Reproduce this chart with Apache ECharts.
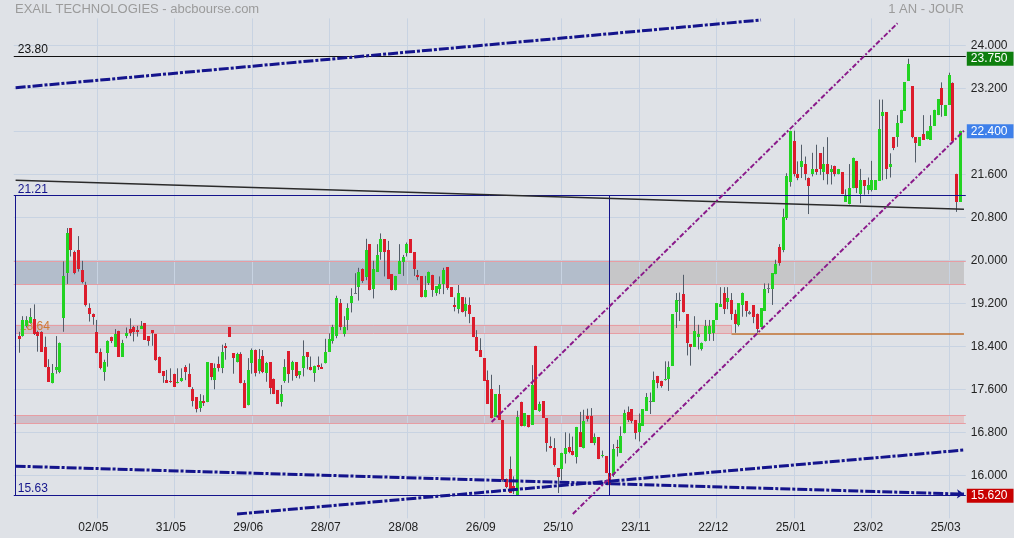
<!DOCTYPE html>
<html><head><meta charset="utf-8">
<script src="https://cdn.jsdelivr.net/npm/echarts@6/dist/echarts.min.js"></script>
<style>html,body{margin:0;padding:0;background:#dfe2e7;}#c{width:1014px;height:538px;}</style>
</head><body><div id="c"></div>
<script>
// ---------- DATA ----------
const open = [
18.59,18.60,18.77,18.83,18.91,18.67,18.66,18.39,18.01,17.71,
17.95,17.93,18.93,19.76,20.60,20.15,20.20,19.82,19.54,19.11,
19.01,18.67,18.30,17.93,18.28,18.58,18.39,18.69,18.21,18.60,
18.72,18.75,18.70,18.73,18.83,18.59,18.70,18.63,18.21,17.94,
17.77,17.76,17.89,17.71,17.76,18.01,17.89,17.61,17.45,17.26,
17.38,17.36,18.08,17.77,18.07,17.99,18.41,18.75,18.27,18.10,
18.26,17.71,17.30,18.08,18.34,17.94,18.22,17.90,18.10,17.80,
17.58,17.36,17.76,18.31,17.95,18.10,17.86,17.99,18.29,18.02,
17.90,18.05,18.02,18.08,18.30,18.50,18.60,19.20,18.62,18.89,
19.20,19.40,19.50,19.83,19.68,20.30,19.46,19.79,20.15,20.39,
20.20,19.74,19.44,19.75,19.96,20.14,20.39,20.15,19.73,19.70,
19.31,19.58,19.73,19.40,19.46,19.56,19.87,19.50,19.17,19.09,
19.31,19.05,19.17,18.94,18.57,18.34,18.18,17.77,17.60,17.09,
17.51,17.03,15.94,16.11,15.80,15.64,17.37,16.91,17.12,16.94,
18.41,17.20,17.38,17.06,16.55,16.50,16.13,16.11,16.40,16.52,
16.45,16.34,16.80,16.50,17.10,17.10,16.61,16.71,16.35,16.36,
16.05,16.01,16.53,16.42,16.78,17.17,17.23,17.03,16.81,16.92,
17.20,17.39,17.37,17.85,17.76,17.77,17.80,18.04,19.04,19.25,
19.37,19.00,18.44,18.39,18.58,18.35,18.49,18.63,18.65,18.89,
19.14,19.40,19.23,19.27,19.00,18.80,19.17,19.24,19.03,19.16,
19.01,18.75,19.06,19.48,19.46,19.74,20.25,20.20,20.78,21.45,
22.21,21.60,21.74,21.79,21.54,21.60,21.70,21.99,21.64,21.79,
21.64,21.76,21.60,21.64,21.09,21.04,21.34,21.85,21.23,21.49,
21.31,21.31,21.31,21.48,22.69,22.75,21.74,22.29,22.29,22.55,
22.78,23.34,23.24,22.29,22.13,22.35,22.25,22.24,22.50,22.70,
23.20,22.69,22.89,23.30,21.61,21.09];
const close = [
18.54,18.89,18.89,18.94,18.63,18.60,18.30,18.01,17.74,17.90,
18.01,18.46,19.71,20.50,20.20,19.76,19.84,19.59,19.16,19.01,
18.94,18.27,17.99,18.11,18.49,18.49,18.63,18.21,18.47,18.64,
18.65,18.66,18.67,18.78,18.52,18.50,18.64,18.15,17.90,17.85,
17.72,17.73,17.65,17.74,17.81,17.93,17.64,17.39,17.23,17.38,
17.35,18.10,17.82,17.99,18.00,18.29,18.36,18.58,18.19,18.25,
17.71,17.26,17.96,18.33,17.90,18.16,17.92,18.08,17.63,17.51,
17.33,17.51,18.01,17.89,18.10,17.85,17.94,18.22,18.20,17.95,
18.04,18.02,17.98,18.30,18.53,18.75,19.29,18.75,18.75,19.11,
19.34,19.39,19.78,19.62,20.20,19.44,19.83,20.10,20.39,20.15,
19.65,19.44,19.71,19.99,20.06,20.30,20.14,19.84,19.68,19.31,
19.45,19.78,19.44,19.52,19.55,19.82,19.49,19.32,19.14,19.39,
19.03,19.19,19.00,18.57,18.32,18.20,17.76,17.33,17.06,17.51,
17.03,15.91,15.79,15.67,15.70,17.08,16.91,17.15,16.89,17.68,
17.22,17.32,17.07,16.60,16.50,16.19,15.96,16.41,16.50,16.44,
16.37,16.90,16.53,17.01,17.05,16.61,16.71,16.30,16.38,16.05,
15.82,16.48,16.50,16.73,17.15,17.03,17.01,16.78,16.97,17.23,
17.46,17.37,17.77,17.71,17.67,17.80,18.01,19.00,19.26,19.27,
19.03,18.46,18.39,18.69,18.63,18.47,18.78,18.78,18.88,19.20,
19.19,19.09,19.29,19.00,18.81,19.20,19.40,19.05,19.01,18.94,
18.72,19.11,19.46,19.46,19.76,19.94,19.95,20.81,21.56,22.41,
21.61,21.54,21.85,21.60,21.38,21.70,21.64,21.69,21.79,21.60,
21.70,21.60,21.70,21.23,21.20,21.35,21.91,21.34,21.49,21.39,
21.40,21.49,21.49,22.44,22.75,21.69,21.79,22.08,22.55,22.80,
23.31,23.65,22.29,22.19,22.29,22.24,22.41,22.50,22.80,23.00,
22.89,22.89,23.45,22.21,21.09,22.40];
const low = [
18.28,18.58,18.75,18.82,18.61,18.30,18.30,18.01,17.74,17.71,
17.89,17.90,18.67,19.56,20.07,19.74,19.79,19.57,19.14,18.86,
18.80,18.27,17.97,17.76,18.02,18.46,18.39,18.21,18.21,18.55,
18.59,18.49,18.58,18.73,18.52,18.41,18.41,18.13,17.90,17.72,
17.72,17.72,17.65,17.71,17.74,17.77,17.64,17.28,17.17,17.18,
17.29,17.36,17.77,17.60,17.93,17.90,18.15,18.58,17.89,18.10,
17.71,17.26,17.30,17.89,17.84,17.89,17.90,17.74,17.51,17.51,
17.33,17.28,17.72,17.72,17.76,17.81,17.80,17.84,17.97,17.95,
17.74,17.96,17.98,18.08,18.30,18.45,18.55,18.70,18.58,18.70,
19.03,19.38,19.25,19.58,19.63,19.44,19.29,19.79,20.01,19.70,
19.65,19.44,19.44,19.75,19.71,20.07,20.14,19.71,19.63,19.31,
19.31,19.54,19.32,19.34,19.37,19.37,19.45,19.32,19.05,19.01,
19.03,18.95,18.83,18.57,18.32,18.20,17.76,17.33,17.06,17.09,
17.03,15.88,15.76,15.67,15.65,15.63,16.91,16.91,16.89,16.94,
17.22,17.18,17.07,16.44,16.50,16.16,15.67,15.91,16.22,16.41,
16.37,16.22,16.53,16.50,17.00,16.61,16.56,16.30,16.33,16.04,
15.72,15.97,16.35,16.42,16.78,16.99,16.97,16.67,16.63,16.92,
17.20,17.14,17.37,17.62,17.63,17.76,17.57,18.04,18.74,18.87,
19.03,18.23,18.04,18.39,18.34,18.32,18.49,18.50,18.50,18.89,
19.14,19.00,19.09,18.89,18.65,18.77,18.95,18.95,18.99,18.83,
18.65,18.75,19.06,19.39,19.17,19.74,19.90,20.15,20.75,21.37,
21.56,21.49,21.53,21.49,20.86,21.56,21.59,21.59,21.49,21.41,
21.41,21.56,21.60,21.23,21.09,21.04,21.34,21.25,21.06,21.22,
21.23,21.28,21.31,21.48,21.49,21.51,21.54,22.05,22.11,22.55,
22.78,23.34,22.27,21.82,22.13,22.24,22.25,22.24,22.50,22.70,
22.67,22.69,22.89,22.21,20.90,21.09];
const high = [
18.67,18.96,18.96,19.11,19.18,18.69,18.68,18.58,18.16,18.07,
18.59,18.47,19.98,20.60,20.60,20.18,20.45,19.99,19.60,19.20,
19.01,18.89,18.36,18.15,18.51,18.58,18.72,18.69,18.52,18.75,
18.92,18.78,18.78,18.87,18.83,18.59,18.70,18.63,18.21,17.94,
17.96,17.99,17.89,17.99,17.99,18.05,18.08,17.64,17.45,17.51,
17.49,18.10,18.08,18.08,18.21,18.43,18.46,18.75,18.27,18.28,
18.29,17.77,18.18,18.36,18.34,18.35,18.33,18.11,18.10,17.80,
17.58,17.68,18.16,18.31,18.13,18.10,17.94,18.51,18.29,18.21,
18.04,18.21,18.08,18.54,18.64,18.80,19.34,19.28,18.96,19.20,
19.48,19.76,19.86,19.85,20.40,20.30,19.99,20.30,20.50,20.39,
20.36,19.74,19.71,20.30,20.10,20.33,20.39,20.15,19.82,19.70,
19.71,19.79,19.73,19.52,19.70,19.86,19.87,19.50,19.31,19.54,
19.31,19.31,19.31,18.94,18.70,18.55,18.18,17.95,17.87,17.51,
17.68,17.03,15.94,16.35,15.98,17.20,17.37,17.15,17.12,18.05,
18.41,17.37,17.38,17.06,16.72,16.69,16.13,16.42,16.80,16.78,
16.72,16.90,17.18,17.22,17.24,17.25,16.78,16.71,16.46,16.36,
16.10,16.58,16.66,16.91,17.22,17.28,17.23,17.03,17.15,17.23,
17.53,17.54,17.93,17.85,17.76,18.12,18.12,19.00,19.39,19.40,
19.73,19.00,18.44,18.96,18.80,18.47,18.89,18.89,18.88,19.20,
19.50,19.50,19.50,19.39,19.08,19.20,19.40,19.24,19.06,19.16,
19.01,19.11,19.57,19.57,19.76,20.01,20.30,20.96,21.62,22.41,
22.41,21.84,22.15,21.93,21.54,22.00,22.15,21.99,22.11,22.29,
21.77,21.76,21.70,21.64,21.32,21.79,21.91,21.85,21.70,21.49,
21.54,21.85,21.49,22.99,22.99,22.75,21.99,22.29,22.70,22.80,
23.31,23.75,23.24,22.29,22.29,22.70,22.41,22.70,22.80,23.00,
23.31,22.89,23.49,23.31,21.61,22.41];

const tickLabels = ['02/05','31/05','29/06','28/07','28/08','26/09','25/10','23/11','22/12','25/01','23/02','25/03'];
const holidays = ['2023-04-07','2023-04-10','2023-05-01','2023-12-25','2023-12-26','2024-01-01'];
const firstDay = '2023-03-29';

// horizontal levels / zones (values)
const zoneA = [19.56, 19.99];
const zoneB = [18.64, 18.80];
const zoneC = [16.97, 17.12];
const levelTop = 23.80, boxHigh = 21.21, boxLow = 15.63, support = 18.64;
const tagHigh = 23.75, tagLast = 22.40, tagLow = 15.62;
const boxEndDay = 160, zoneBEndDay = 193;
// trend lines: [startDayIndex, startValue, endDayIndex, endValue]  (-1 / 256 = chart edges)
const trendBlack   = [-1, 21.49, 256, 20.95];
const trendNavyTop = [-1, 23.21, 201, 24.47];
const trendNavyDn  = [-1, 16.17, 256, 15.65];
const trendNavyUp  = [59, 15.28, 256, 16.47];
const channelUp    = [128, 16.99, 238, 24.41];
const channelLow   = [150, 15.28, 256, 22.41];

// ---------- categories (trading days) ----------
const dates = [];
for (let d = new Date(firstDay + 'T00:00:00Z'); dates.length < open.length; d.setUTCDate(d.getUTCDate() + 1)) {
  const iso = d.toISOString().slice(0, 10), dow = d.getUTCDay();
  if (dow === 0 || dow === 6 || holidays.includes(iso)) continue;
  dates.push(iso);
}
const cats = ['pad0'].concat(dates, ['pad1']);
const fmt = s => s.slice(8, 10) + '/' + s.slice(5, 7);
const tickSet = new Set(tickLabels);
const candleData = dates.map((d, i) => [i + 1, open[i], close[i], low[i], high[i]]);
const lastCat = cats.length - 1;

function renderCandle(params, api) {
  const k = api.value(0), o = api.value(1), c = api.value(2), l = api.value(3), h = api.value(4);
  const pO = api.coord([k, o]), pC = api.coord([k, c]), pL = api.coord([k, l]), pH = api.coord([k, h]);
  const bw = Math.max(2, Math.round(api.size([1, 0])[0] * 0.75));
  const x0 = Math.round(pO[0] - bw / 2), xm = x0 + bw / 2;
  const yT = Math.round(Math.min(pO[1], pC[1])), yB = Math.round(Math.max(pO[1], pC[1]));
  const fill = Math.abs(c - o) < 0.025 ? '#6d757e' : (c > o ? '#22d322' : '#dc1c2c');
  return {type: 'group', children: [
    {type: 'line', shape: {x1: xm, y1: pH[1], x2: xm, y2: pL[1]}, style: {stroke: '#535d69', lineWidth: 1}},
    {type: 'rect', shape: {x: x0, y: yT, width: bw, height: Math.max(1, yB - yT)}, style: {fill: fill}}
  ]};
}

const NAVY = '#14148c', PURPLE = '#8a1a8a', PINK = '#e79da3';
const seg = (t, style) => [{coord: [t[0] + 1, t[1]], lineStyle: style}, {coord: [t[2] + 1, t[3]]}];
const hideLine = {color: 'rgba(0,0,0,0)', width: 0};
const tag = (v, bg) => ({yAxis: v, lineStyle: hideLine,
  label: {show: true, position: 'end', formatter: v.toFixed(3), color: '#fff', backgroundColor: bg,
          padding: [1, 6, 1, 4], distance: 1, fontSize: 12, lineHeight: 12}});
const zone = (x1, x2, z, col) => [{xAxis: x1, yAxis: z[0], itemStyle: {color: col}}, {xAxis: x2, yAxis: z[1]}];
const levelLabel = (txt, col) => ({show: true, position: 'insideStartTop', formatter: txt, color: col, fontSize: 12, distance: [4, 0]});

const chart = echarts.init(document.getElementById('c'));
chart.setOption({
  animation: false,
  backgroundColor: '#dfe2e7',
  textStyle: {fontFamily: 'Liberation Sans, Arial, sans-serif'},
  title: [
    {text: 'EXAIL TECHNOLOGIES - abcbourse.com', left: 15, top: 3, padding: 0,
     textStyle: {fontSize: 13, fontWeight: 'normal', color: '#9b9b9b', fontFamily: 'Liberation Sans, Arial, sans-serif'}},
    {text: '1 AN - JOUR', right: 50, top: 3, padding: 0,
     textStyle: {fontSize: 13, fontWeight: 'normal', color: '#9b9b9b', fontFamily: 'Liberation Sans, Arial, sans-serif'}}
  ],
  grid: {left: 13.77, right: 48.2, top: 18.4, bottom: 19.7, containLabel: false, outerBoundsMode: 'none'},
  xAxis: {
    type: 'category', data: cats, boundaryGap: true,
    axisLine: {show: false}, axisTick: {show: false}, splitLine: {show: false},
    axisLabel: {interval: (idx, val) => tickSet.has(fmt(val)), formatter: v => fmt(v),
                color: '#222', fontSize: 12, margin: 3, padding: [0, 7, 0, 0]}
  },
  yAxis: {
    type: 'value', position: 'right', min: 15.2, max: 24.5, interval: 0.8,
    axisLine: {show: false}, axisTick: {show: false},
    splitLine: {show: true, showMinLine: false, showMaxLine: false, lineStyle: {color: '#c8d3e2', width: 1}},
    axisLabel: {margin: 5, color: '#222', fontSize: 12, padding: [0, 0, 6, 0],
                formatter: v => (v < 15.5 || v > 24.2 || Math.abs(v - tagLast) < 0.01) ? '' : v.toFixed(3)}
  },
  series: [
    { // background layer: zones, vertical grid, level label
      type: 'line', data: [], z: 1, silent: true,
      markArea: {silent: true, z: 1, data: [
        zone(0, boxEndDay + 1, zoneA, '#b3bdcb'), zone(boxEndDay + 1, lastCat, zoneA, '#c6c6c8'),
        zone(0, boxEndDay + 1, zoneB, '#cec0ca'), zone(boxEndDay + 1, zoneBEndDay + 1, zoneB, '#e0c5c8'),
        zone(0, boxEndDay + 1, zoneC, '#cdbfc9'), zone(boxEndDay + 1, lastCat, zoneC, '#e2c7c9')
      ]},
      markLine: {silent: true, z: 1, symbol: ['none', 'none'], label: {show: false},
        lineStyle: {type: 'solid'},
        data: dates.map((d, i) => tickSet.has(fmt(d)) ? {xAxis: i + 1, lineStyle: {color: '#c8d3e2', width: 1}} : null).filter(Boolean)
          .concat([
            {yAxis: zoneA[0], lineStyle: {color: PINK, width: 1}}, {yAxis: zoneA[1], lineStyle: {color: PINK, width: 1}},
            {yAxis: zoneC[0], lineStyle: {color: PINK, width: 1}}, {yAxis: zoneC[1], lineStyle: {color: PINK, width: 1}},
            [{coord: [0, zoneB[0]], lineStyle: {color: PINK, width: 1}}, {coord: [zoneBEndDay + 1, zoneB[0]]}],
            [{coord: [0, zoneB[1]], lineStyle: {color: PINK, width: 1}}, {coord: [zoneBEndDay + 1, zoneB[1]]}],
            [{coord: [zoneBEndDay + 1, zoneB[0]], lineStyle: {color: PINK, width: 1}}, {coord: [zoneBEndDay + 1, zoneB[1]]}],
            {yAxis: support, lineStyle: hideLine,
             label: {show: true, position: 'insideStartTop', formatter: support.toFixed(2), color: '#cf7b35', fontSize: 12, distance: [6, 1]}}
          ])
      }
    },
    {type: 'custom', z: 2, renderItem: renderCandle, data: candleData, encode: {x: 0, y: [1, 2, 3, 4]}, silent: true},
    { // annotation layer
      type: 'line', data: [], z: 4, silent: true,
      markLine: {silent: true, z: 5, symbol: ['none', 'none'], label: {show: false},
        data: [
          {yAxis: levelTop, lineStyle: {color: '#111', width: 1, type: 'solid'}, label: levelLabel(levelTop.toFixed(2), '#111')},
          {yAxis: boxHigh, lineStyle: {color: NAVY, width: 1, type: 'solid'}, label: levelLabel(boxHigh.toFixed(2), NAVY)},
          {yAxis: boxLow, lineStyle: {color: NAVY, width: 1, type: 'solid'}, label: levelLabel(boxLow.toFixed(2), NAVY)},
          [{coord: [0, boxLow], lineStyle: {color: NAVY, width: 1, type: 'solid'}}, {coord: [0, boxHigh]}],
          [{coord: [boxEndDay + 1, boxLow], lineStyle: {color: NAVY, width: 1, type: 'solid'}}, {coord: [boxEndDay + 1, boxHigh]}],
          [{coord: [zoneBEndDay + 1, support], lineStyle: {color: '#c07030', width: 1.5, type: 'solid'}}, {coord: [lastCat, support]}],
          seg(trendBlack, {color: '#2a2a2a', width: 1.5, type: 'solid'}),
          seg(trendNavyTop, {color: NAVY, width: 3, type: [10, 2, 3, 2]}),
          [{coord: [trendNavyDn[0] + 1, trendNavyDn[1]], lineStyle: {color: NAVY, width: 3, type: [10, 2, 3, 2]}},
           {coord: [trendNavyDn[2] + 1, trendNavyDn[3]], symbol: 'arrow', symbolSize: 7}],
          seg(trendNavyUp, {color: NAVY, width: 3, type: [10, 2, 3, 2]}),
          seg(channelUp, {color: PURPLE, width: 2, type: [5, 2, 2, 2]}),
          seg(channelLow, {color: PURPLE, width: 2, type: [5, 2, 2, 2]}),
          tag(tagHigh, '#0e7f0e'),
          tag(tagLast, '#3f80ea'),
          tag(tagLow, '#c80000')
        ]
      }
    }
  ]
});
</script></body></html>
